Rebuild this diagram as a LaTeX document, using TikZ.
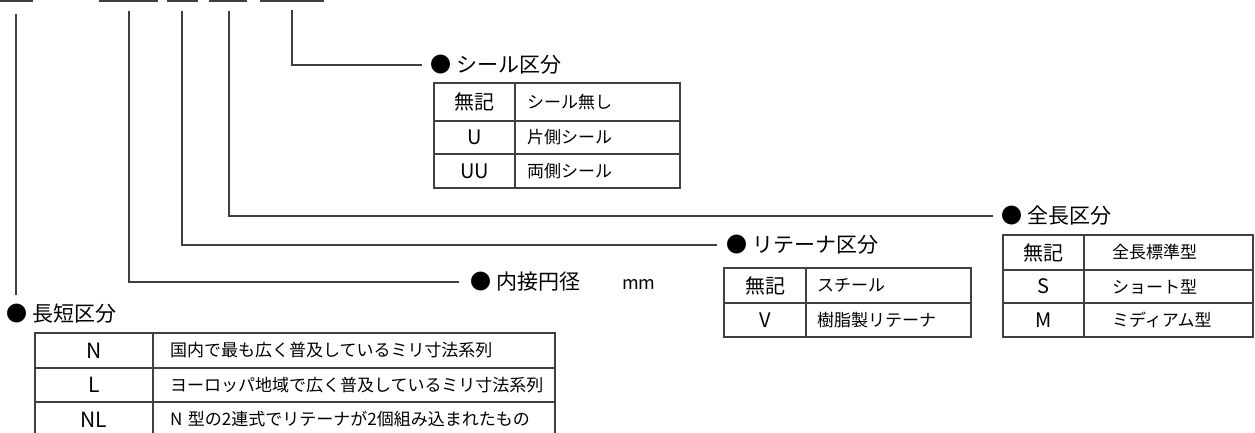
\documentclass[tikz,border=0pt]{standalone}
\usepackage{fontspec}
\setmainfont{Noto Sans CJK JP}
\usetikzlibrary{positioning}
\definecolor{linec}{gray}{0.25}

\begin{document}
\begin{tikzpicture}[x=1pt, y=-1pt, line width=1.2pt,
	conn/.style={draw=linec},
	blank/.style={draw=linec, line width=2pt},
	head/.style={anchor=west, inner sep=0pt, font=\fontsize{21}{24}\selectfont},
	cell/.style={draw=linec, inner sep=0pt, outer sep=0pt},
	keycell/.style={cell, minimum width=#1, font=\fontsize{20}{22}\selectfont},
	desccell/.style 2 args={cell, text width=#1, inner xsep=#2, align=left, font=\fontsize{17}{20}\selectfont}]
	\useasboundingbox (0,0) rectangle (1255,433);

	\draw[blank] (0,1.5) -- (33,1.5);
	\draw[blank] (99,1.5) -- (158,1.5);
	\draw[blank] (167,1.5) -- (198,1.5);
	\draw[blank] (209,1.5) -- (247,1.5);
	\draw[blank] (260,1.5) -- (324,1.5);

	\coordinate (P1) at (16,14);
	\coordinate (P2) at (129,11);
	\coordinate (P3) at (182,11);
	\coordinate (P4) at (229,11);
	\coordinate (P5) at (292,10);
	\coordinate (E1) at (16,295);

	\node[head] (LS) at (430,65) {● シール区分};
	\node[head] (LZ) at (1001,216) {● 全長区分};
	\node[head] (LR) at (726,245) {● リテーナ区分};
	\node[head] (LD) at (470,282) {● 内接円径　　{\fontsize{18}{24}\selectfont mm}};
	\node[head] (LL) at (6,314) {● 長短区分};

	\node[keycell=81pt, minimum height=38pt, anchor=north west] (S1) at (434,83) {無記};
	\node[desccell={141pt}{12pt}, minimum height=38pt] (S1d) [right=0pt of S1] {シール無し};
	\node[keycell=81pt, minimum height=33pt] (S2) [below=0pt of S1] {U};
	\node[desccell={141pt}{12pt}, minimum height=33pt] (S2d) [right=0pt of S2] {片側シール};
	\node[keycell=81pt, minimum height=34pt] (S3) [below=0pt of S2] {UU};
	\node[desccell={141pt}{12pt}, minimum height=34pt] (S3d) [right=0pt of S3] {両側シール};

	\node[keycell=81pt, minimum height=35pt, anchor=north west] (Z1) at (1003,235) {無記};
	\node[desccell={113pt}{28pt}, minimum height=35pt] (Z1d) [right=0pt of Z1] {全長標準型};
	\node[keycell=81pt, minimum height=33pt] (Z2) [below=0pt of Z1] {S};
	\node[desccell={113pt}{28pt}, minimum height=33pt] (Z2d) [right=0pt of Z2] {ショート型};
	\node[keycell=81pt, minimum height=34pt] (Z3) [below=0pt of Z2] {M};
	\node[desccell={113pt}{28pt}, minimum height=34pt] (Z3d) [right=0pt of Z3] {ミディアム型};

	\node[keycell=82pt, minimum height=35pt, anchor=north west] (R1) at (724,268) {無記};
	\node[desccell={143pt}{11pt}, minimum height=35pt] (R1d) [right=0pt of R1] {スチール};
	\node[keycell=82pt, minimum height=34pt] (R2) [below=0pt of R1] {V};
	\node[desccell={143pt}{11pt}, minimum height=34pt] (R2d) [right=0pt of R2] {樹脂製リテーナ};

	\node[keycell=118pt, minimum height=35pt, anchor=north west, font=\fontsize{21}{24}\selectfont] (L1) at (35,333) {N};
	\node[desccell={368pt}{17pt}, minimum height=35pt] (L1d) [right=0pt of L1] {国内で最も広く普及しているミリ寸法系列};
	\node[keycell=118pt, minimum height=34pt, font=\fontsize{21}{24}\selectfont] (L2) [below=0pt of L1] {L};
	\node[desccell={368pt}{17pt}, minimum height=34pt] (L2d) [right=0pt of L2] {ヨーロッパ地域で広く普及しているミリ寸法系列};
	\node[keycell=118pt, minimum height=35pt, font=\fontsize{21}{24}\selectfont] (L3) [below=0pt of L2] {NL};
	\node[desccell={368pt}{17pt}, minimum height=35pt] (L3d) [right=0pt of L3] {N~型の2連式でリテーナが2個組み込まれたもの};

	\draw[conn] (P1) -- (E1);
	\draw[conn] (P2) |- ([xshift=-11pt]LD.west);
	\draw[conn] (P3) |- ([xshift=-9pt]LR.west);
	\draw[conn] (P4) |- ([xshift=-8pt]LZ.west);
	\draw[conn] (P5) |- ([xshift=-8pt]LS.west);
\end{tikzpicture}
\end{document}
